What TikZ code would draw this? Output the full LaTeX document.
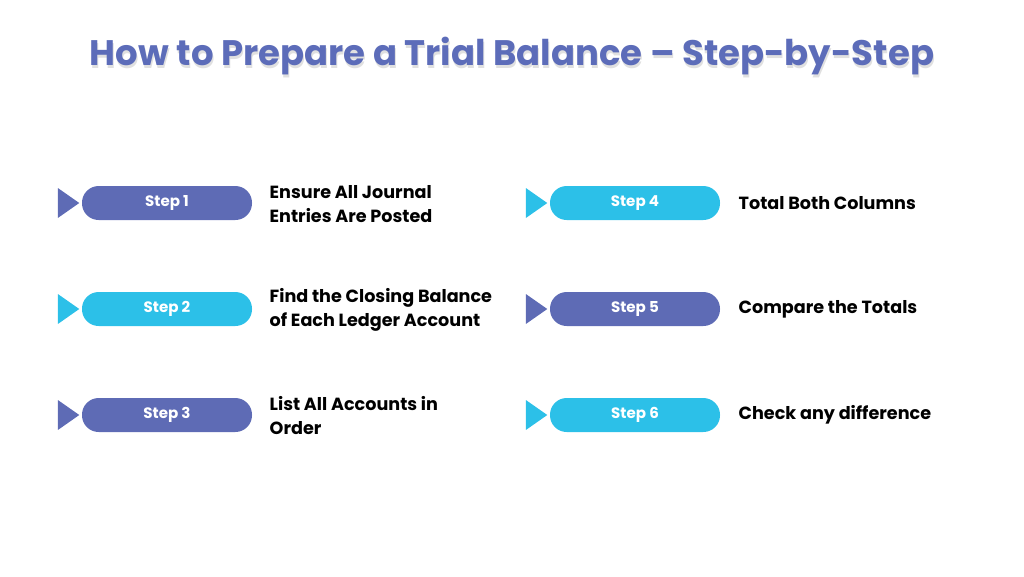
\documentclass[tikz,border=0pt]{standalone}
\usepackage{fontspec}
\setmainfont{Poppins}
\usepackage{tikz}
\usetikzlibrary{positioning,shapes.geometric}
\definecolor{navy}{HTML}{5E6BB5}
\definecolor{sky}{HTML}{2CC0E8}
\definecolor{titleblue}{HTML}{5C6CB9}

\begin{document}
\begin{tikzpicture}[x=0.75pt,y=-0.75pt,
    pill/.style={rounded corners=12.5pt,minimum width=127.5pt,minimum height=25.5pt,
                 text=white,font=\fontsize{11.3}{13}\selectfont\bfseries},
    arrowhead/.style={isosceles triangle,isosceles triangle apex angle=70,inner sep=0pt,
                      minimum height=16pt,minimum width=18pt,node distance=1.5pt},
    desc/.style={anchor=west,align=left,font=\fontsize{13.2}{18}\selectfont\bfseries}]
  \useasboundingbox (0,0) rectangle (1024,576);
  \node[text=black!12,font=\fontsize{26.6}{32}\selectfont\bfseries] at (513,59)
       {How to Prepare a Trial Balance – Step-by-Step};
  \node[text=titleblue,font=\fontsize{26.6}{32}\selectfont\bfseries] (title) at (512,56)
       {How to Prepare a Trial Balance – Step-by-Step};

  % left column
  \node[pill,fill=navy] (s1) at (167,203) {Step 1};
  \node[pill,fill=sky]  (s2) at (167,309) {Step 2};
  \node[pill,fill=navy] (s3) at (167,415) {Step 3};
  % right column
  \node[pill,fill=sky]  (s4) at (635,203) {Step 4};
  \node[pill,fill=navy] (s5) at (635,309) {Step 5};
  \node[pill,fill=sky]  (s6) at (635,415) {Step 6};

  \foreach \s/\c in {s1/navy,s2/sky,s3/navy,s4/sky,s5/navy,s6/sky}
    \node[arrowhead,fill=\c,left=of \s] (\s-tip) {};

  \node[desc] (d1) at (265,204) {Ensure All Journal\\Entries Are Posted};
  \node[desc] (d2) at (265,310) {Find the Closing Balance\\of Each Ledger Account};
  \node[desc] (d3) at (265,416) {List All Accounts in\\Order};
  \node[desc] (d4) at (734,203) {Total Both Columns};
  \node[desc] (d5) at (734,309) {Compare the Totals};
  \node[desc] (d6) at (734,415) {Check any difference};
\end{tikzpicture}
\end{document}
